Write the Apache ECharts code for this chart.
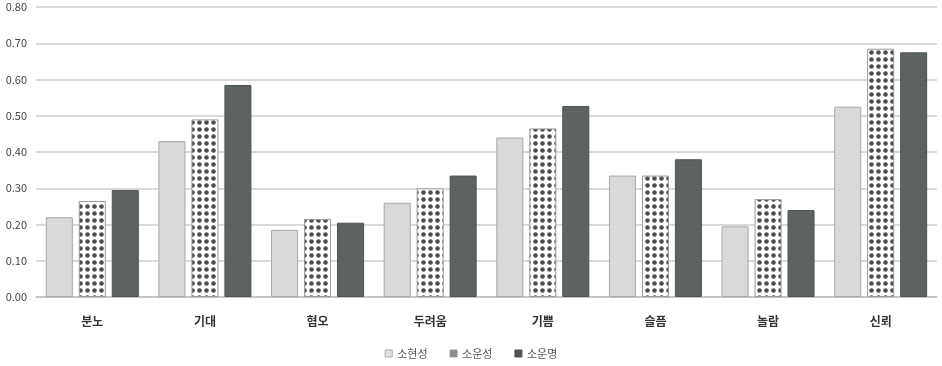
<!DOCTYPE html>
<html><head><meta charset="utf-8">
<script src="https://cdn.jsdelivr.net/npm/echarts@6/dist/echarts.min.js"></script>
<style>html,body{margin:0;padding:0;background:#fff}#c{width:942px;height:366px}</style>
</head><body><div id="c"></div>
<script>
const categories = ['분노','기대','혐오','두려움','기쁨','슬픔','놀람','신뢰'];
const seriesNames = ['소현성','소운성','소운명'];
const soHyeonseong = [0.22, 0.43, 0.185, 0.26, 0.44, 0.335, 0.195, 0.525];
const soUnseong    = [0.265, 0.49, 0.215, 0.30, 0.465, 0.335, 0.27, 0.685];
const soUnmyeong   = [0.295, 0.585, 0.205, 0.335, 0.527, 0.38, 0.24, 0.675];
const yTicks = [0, 0.1, 0.2, 0.3, 0.4, 0.5, 0.6, 0.7, 0.8];

function makePattern(bg, fg, size, r) {
  const cv = document.createElement('canvas');
  cv.width = size; cv.height = size;
  const ctx = cv.getContext('2d');
  ctx.fillStyle = bg; ctx.fillRect(0,0,size,size);
  ctx.fillStyle = fg;
  ctx.beginPath(); ctx.arc(size/2, size/2, r, 0, Math.PI*2); ctx.fill();
  return {image: cv, repeat: 'repeat'};
}
function makeNoise(base, alt, size) {
  const cv = document.createElement('canvas');
  cv.width = size; cv.height = size;
  const ctx = cv.getContext('2d');
  ctx.fillStyle = base; ctx.fillRect(0,0,size,size);
  ctx.fillStyle = alt;
  for (let y=0;y<size;y+=2) for (let x=(y/2)%2;x<size;x+=2) ctx.fillRect(x,y,1,1);
  return {image: cv, repeat: 'repeat'};
}
const lightFill = makeNoise('#dcdcdc', '#cfcfcf', 4);
const dotFill = makePattern('#ffffff', '#4d4d4d', 7, 2.3);
const darkFill = makeNoise('#5f6563', '#565c5a', 4);

const chart = echarts.init(document.getElementById('c'));
const font = '"Noto Sans CJK KR", "Noto Sans", sans-serif';
const data = [soHyeonseong, soUnseong, soUnmyeong];
const fills = [lightFill, dotFill, darkFill];
const legendFills = ['#e2e2e2', '#8a8a8a', '#4f5553'];
const borders = ['#a8a8a8', '#9a9a9a', '#4e5452'];
chart.setOption({
  animation: false,
  textStyle: {fontFamily: font},
  grid: {left: 36, right: 5, top: 7, bottom: 69, containLabel: false},
  legend: {
    bottom: 2, left: 'center',
    itemWidth: 7, itemHeight: 7, itemGap: 22,
    textStyle: {fontSize: 11, color: '#555', fontFamily: font},
    data: seriesNames.map((n,i)=>({name:n, icon:'rect', itemStyle:{color: legendFills[i], borderColor: borders[i], borderWidth: 1}}))
  },
  xAxis: {
    type: 'category', data: categories,
    axisTick: {show: false},
    axisLine: {lineStyle: {color: '#bdbdbd', width: 1.5}},
    axisLabel: {margin: 18, fontSize: 12, color: '#333', fontWeight: 'bold', fontFamily: font}
  },
  yAxis: {
    type: 'value', min: 0, max: 0.8, interval: 0.1,
    axisLine: {show: false}, axisTick: {show: false},
    splitLine: {lineStyle: {color: '#cdcdcd', width: 1.5}},
    axisLabel: {margin: 9, fontSize: 11, color: '#444', fontFamily: font,
      formatter: v => yTicks.some(t => Math.abs(t - v) < 1e-9) ? v.toFixed(2) : ''}
  },
  series: seriesNames.map((n,i)=>({
    name: n, type: 'bar', data: data[i],
    barWidth: '24%', barGap: '22%',
    itemStyle: {color: fills[i], borderColor: borders[i], borderWidth: 1}
  }))
});
</script></body></html>
